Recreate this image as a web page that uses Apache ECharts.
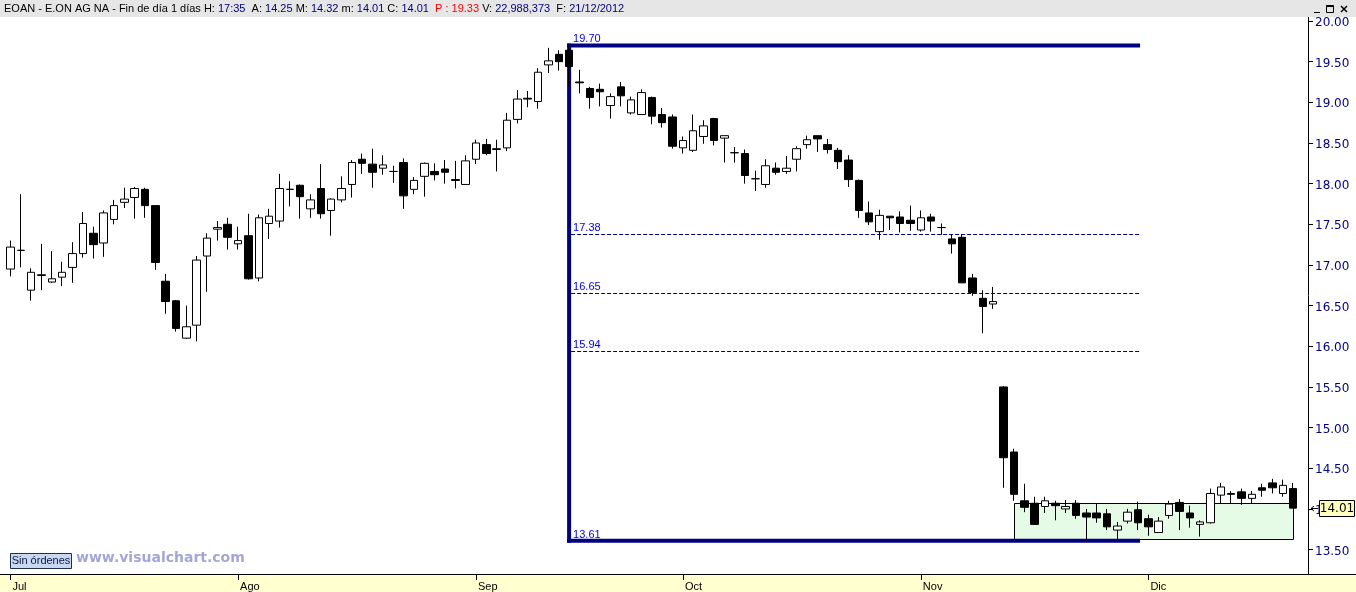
<!DOCTYPE html>
<html><head><meta charset="utf-8">
<script src="https://cdn.jsdelivr.net/npm/echarts@6/dist/echarts.min.js"></script>
<style>html,body{margin:0;padding:0;background:#fff;overflow:hidden}#c{width:1356px;height:592px}</style>
</head><body><div id="c"></div>
<script>
// ---- data (daily candles, 2 Jul 2012 .. 21 Dec 2012) ----
const openP = [16.95,17.18,16.69,16.87,16.79,16.85,16.97,17.14,17.39,17.27,17.56,17.77,17.83,17.93,17.73,16.80,16.56,16.10,16.26,17.11,17.44,17.50,
17.26,17.36,16.84,17.51,17.54,17.93,17.98,17.69,17.94,17.67,17.80,17.99,18.30,18.24,18.19,18.15,18.26,17.93,18.09,18.15,18.18,18.05,17.99,
18.30,18.48,18.42,18.44,18.79,19.05,19.01,19.46,19.59,19.64,19.25,19.17,19.16,18.96,19.19,18.87,18.85,19.06,18.85,18.82,
18.44,18.41,18.58,18.80,18.56,18.38,18.37,18.06,17.99,18.19,18.15,18.30,18.48,18.59,18.48,18.41,18.29,18.04,17.64,17.41,17.60,17.59,17.55,
17.43,17.59,17.46,17.32,17.34,16.84,16.59,16.52,15.50,14.70,14.10,14.07,14.03,14.07,14.00,14.07,13.95,13.95,13.94,13.74,13.85,13.99,
13.88,13.71,13.92,14.08,13.95,13.81,13.83,14.17,14.19,14.21,14.13,14.26,14.32,14.19,14.25];
const highP = [17.30,17.87,16.96,17.26,17.17,17.04,17.28,17.65,17.47,17.67,17.80,17.95,17.96,17.95,17.73,16.89,16.57,16.50,17.11,17.39,17.54,17.58,
17.47,17.63,17.62,17.69,18.12,18.03,17.99,17.87,18.24,17.82,18.09,18.29,18.37,18.43,18.35,18.22,18.31,18.08,18.26,18.25,18.29,18.28,18.35,
18.54,18.55,18.54,18.87,19.15,19.14,19.42,19.67,19.64,19.70,19.40,19.19,19.23,19.11,19.25,19.07,19.16,19.07,18.93,18.85,
18.58,18.85,18.78,18.81,18.59,18.45,18.42,18.16,18.30,18.26,18.34,18.46,18.59,18.59,18.55,18.44,18.35,18.05,17.78,17.68,17.60,17.66,17.73,
17.67,17.63,17.51,17.38,17.38,16.89,16.69,16.73,15.51,14.74,14.31,14.15,14.15,14.10,14.11,14.11,14.00,14.07,14.00,13.84,14.00,14.09,
13.93,13.90,14.10,14.12,14.04,13.86,14.25,14.32,14.22,14.25,14.22,14.31,14.37,14.36,14.32];
const lowP = [16.86,16.97,16.56,16.69,16.78,16.74,16.78,17.09,17.08,17.10,17.50,17.70,17.57,17.58,16.94,16.40,16.18,16.09,16.06,16.67,17.30,17.19,
17.19,16.82,16.80,17.32,17.46,17.72,17.57,17.58,17.57,17.36,17.77,17.83,18.12,17.95,18.11,18.01,17.69,17.87,17.84,18.04,18.00,17.94,17.99,
18.24,18.35,18.15,18.40,18.74,18.94,18.92,19.36,19.39,19.21,19.11,18.92,18.95,18.80,18.95,18.85,18.85,18.73,18.69,18.43,
18.37,18.39,18.49,18.47,18.26,18.26,18.00,17.91,17.95,18.11,18.12,18.15,18.43,18.39,18.37,18.18,17.96,17.58,17.49,17.31,17.43,17.40,17.42,
17.41,17.41,17.37,17.14,16.78,16.62,16.16,16.46,14.26,14.10,13.96,13.81,13.95,13.86,13.95,13.88,13.60,13.83,13.74,13.61,13.82,13.74,
13.67,13.71,13.88,13.74,13.77,13.66,13.82,14.07,14.07,14.05,14.07,14.15,14.19,14.15,14.01];
const closeP = [17.22,17.18,16.91,16.88,16.83,16.91,17.14,17.51,17.25,17.64,17.73,17.81,17.94,17.73,17.03,16.55,16.22,16.24,17.06,17.33,17.46,17.34,
17.30,16.83,17.58,17.60,17.94,17.93,17.84,17.80,17.63,17.81,17.94,18.26,18.25,18.14,18.23,18.15,17.85,18.04,18.25,18.11,18.14,18.04,18.28,
18.50,18.37,18.43,18.78,19.04,19.04,19.37,19.51,19.50,19.44,19.24,19.06,19.13,19.07,19.08,19.03,19.12,18.83,18.75,18.46,
18.53,18.65,18.71,18.53,18.59,18.38,18.10,18.06,18.22,18.14,18.19,18.43,18.54,18.55,18.42,18.27,18.05,17.67,17.53,17.61,17.58,17.51,17.51,
17.58,17.54,17.46,17.26,16.78,16.66,16.49,16.55,14.63,14.18,14.02,13.81,14.10,14.04,14.03,13.92,13.90,13.89,13.78,13.79,13.96,13.83,
13.78,13.85,14.06,13.97,13.89,13.84,14.19,14.27,14.18,14.13,14.18,14.23,14.26,14.29,14.01];
const monthLabels = ['Jul','Ago','Sep','Oct','Nov','Dic'];
const yTicks = {min: 13.5, max: 20, interval: 0.5};
// annotation (retracement tool) levels and anchors
const fibLevels = [19.70, 17.38, 16.65, 15.94, 13.61];
const fibIdx = [54, 109];
const boxIdx = [97, 124];
const boxPrices = [14.07, 13.63];
const header = {name:'EOAN - E.ON AG NA - Fin de día 1 días', time:'17:35', prev:'19.33', vol:'22,988,373', date:'21/12/2012'};

// trading days (weekdays) from 2 Jul 2012 to 21 Dec 2012
const dates = [];
for (let t = Date.UTC(2012,6,2); t <= Date.UTC(2012,11,21); t += 86400000) {
  const d = new Date(t); const w = d.getUTCDay();
  if (w !== 0 && w !== 6) dates.push(d.toISOString().slice(0,10));
}
const isMonthStart = i => i === 0 || dates[i].slice(5,7) !== dates[i-1].slice(5,7);
const candles = openP.map((o,i) => [o, closeP[i], lowP[i], highP[i]]);

const chart = echarts.init(document.getElementById('c'), null, {renderer:'canvas'});
const GRID = {left: 5.33, right: 57.6, top: 21, bottom: 42.4};
chart.setOption({
  animation: false,
  backgroundColor: '#ffffff',
  grid: GRID,
  xAxis: {
    type: 'category', data: dates, boundaryGap: true, offset: 24.4,
    axisLine: {show: false},
    axisTick: {show: true, alignWithLabel: true, interval: (i) => isMonthStart(i), length: 6, lineStyle: {color: '#000', width: 1}},
    axisLabel: {interval: (i) => isMonthStart(i), formatter: (v) => monthLabels[parseInt(v.slice(5,7),10) - 7],
      align: 'left', margin: 7, padding: [0,0,0,2], fontFamily: 'Liberation Sans', fontSize: 11, color: '#000'},
    splitLine: {show: false}
  },
  yAxis: {
    type: 'value', position: 'right', offset: 9.6, min: yTicks.min, max: yTicks.max, interval: yTicks.interval,
    axisLine: {show: false},
    axisTick: {show: true, length: 5, lineStyle: {color: '#000', width: 1}},
    axisLabel: {margin: 7, formatter: (v) => '{t|' + v.toFixed(2) + '}', fontFamily: 'DejaVu Sans', fontSize: 12, color: '#000080',
      rich: {t: {fontFamily: 'DejaVu Sans', fontSize: 12, color: '#000080', padding: [4,0,0,0]}}},
    splitLine: {show: false}
  },
  series: [{
    type: 'candlestick', data: candles, barWidth: 8, z: 5,
    itemStyle: {color: '#ffffff', color0: '#000000', borderColor: '#000000', borderColor0: '#000000', borderWidth: 1},
    emphasis: {disabled: true}
  }]
});

const px = (i, v) => chart.convertToPixel({gridIndex: 0}, [i, v]);
const g = [];
// backgrounds / frame
g.push({type:'rect', shape:{x:0,y:0,width:1356,height:17}, style:{fill:'#e6e6e6'}, z:-5});
g.push({type:'rect', shape:{x:0,y:574,width:1356,height:18}, style:{fill:'#ffffd0'}, z:-5});
g.push({type:'line', shape:{x1:0,y1:574.5,x2:1356,y2:574.5}, style:{stroke:'#000',lineWidth:1}, z:3});
g.push({type:'line', shape:{x1:1308.5,y1:17,x2:1308.5,y2:574}, style:{stroke:'#000',lineWidth:1}, z:3});
// header text
const last = openP.length - 1;
const hdr = '{k|' + header.name + ' H: }{v|' + header.time + '}{k|  A: }{v|' + openP[last].toFixed(2) +
  '}{k| M: }{v|' + highP[last].toFixed(2) + '}{k| m: }{v|' + lowP[last].toFixed(2) + '}{k| C: }{v|' + closeP[last].toFixed(2) +
  '}{r|  P : ' + header.prev + '}{k| V: }{v|' + header.vol + '}{k|  F: }{v|' + header.date + '}';
const hf = '11px "Liberation Sans"';
g.push({type:'text', x:4, y:8.5, style:{text: hdr, verticalAlign:'middle', font:hf,
  rich:{k:{fill:'#000', font:hf}, v:{fill:'#000080', font:hf}, r:{fill:'#ff0000', font:hf}}}, z:3});
// window buttons
g.push({type:'line', shape:{x1:1314,y1:12.5,x2:1320,y2:12.5}, style:{stroke:'#000',lineWidth:1}, z:3});
g.push({type:'rect', shape:{x:1326.5,y:5.5,width:7,height:7}, style:{fill:'none',stroke:'#000',lineWidth:1}, z:3});
g.push({type:'line', shape:{x1:1326.5,y1:6,x2:1333.5,y2:6}, style:{stroke:'#000',lineWidth:2}, z:3});
g.push({type:'line', shape:{x1:1341,y1:6,x2:1347,y2:12}, style:{stroke:'#000',lineWidth:1.5}, z:3});
g.push({type:'line', shape:{x1:1347,y1:6,x2:1341,y2:12}, style:{stroke:'#000',lineWidth:1.5}, z:3});
// Sin órdenes + watermark
g.push({type:'rect', shape:{x:10.5,y:553.5,width:61,height:15}, style:{fill:'#c8d8f0',stroke:'#203050',lineWidth:1}, z:3});
g.push({type:'text', x:41, y:561, style:{text:'Sin órdenes', font:'11px "Liberation Sans"', fill:'#101840', align:'center', verticalAlign:'middle'}, z:3});
g.push({type:'text', x:76, y:558, style:{text:'www.visualchart.com', font:'bold 14px "DejaVu Sans"', fill:'#a3a6d8', verticalAlign:'middle'}, z:3});

// green box
const b0 = px(boxIdx[0], boxPrices[0]), b1 = px(boxIdx[1], boxPrices[1]);
g.push({type:'rect', shape:{x:Math.round(b0[0])+0.5, y:Math.round(b0[1])+0.5, width:Math.round(b1[0]-b0[0]), height:Math.round(b1[1]-b0[1])},
  style:{fill:'#e6fbe6', stroke:'#000', lineWidth:1}, z:1});
// retracement tool
const xa = px(fibIdx[0], fibLevels[0])[0], xb = px(fibIdx[1], fibLevels[0])[0] + 2;
const yTop = px(0, fibLevels[0])[1], yBot = px(0, fibLevels[fibLevels.length-1])[1];
g.push({type:'line', shape:{x1:xa-2, y1:yTop, x2:xb, y2:yTop}, style:{stroke:'#000080', lineWidth:4}, z:2});
g.push({type:'line', shape:{x1:xa-2, y1:yBot, x2:xb, y2:yBot}, style:{stroke:'#000080', lineWidth:4}, z:2});
g.push({type:'line', shape:{x1:xa, y1:yTop-2, x2:xa, y2:yBot+2}, style:{stroke:'#000080', lineWidth:4}, z:2});
fibLevels.forEach((lv, k) => {
  const y = Math.round(px(0, lv)[1]) + 0.5;
  if (k > 0 && k < fibLevels.length - 1) {
    g.push({type:'line', shape:{x1:xa+2, y1:y, x2:xb, y2:y}, style:{stroke:'#000080', lineWidth:1, lineDash:[4,2]}, z:2});
  }
  g.push({type:'text', x:xa+4, y:y-1.5, style:{text: lv.toFixed(2), font:'11px "Liberation Sans"', fill:'#0000ee', verticalAlign:'bottom'}, z:2});
});
// last price tag
const yl = Math.round(px(last, closeP[last])[1]);
g.push({type:'rect', shape:{x:1319.5, y:yl-7.5, width:35, height:16}, style:{fill:'#ffffc0', stroke:'#000', lineWidth:1}, z:4});
g.push({type:'text', x:1337, y:yl+0.5, style:{text: closeP[last].toFixed(2), font:'12px "DejaVu Sans"', fill:'#000', align:'center', verticalAlign:'middle'}, z:5});
g.push({type:'polyline', shape:{points:[[1314,yl-2],[1311,yl+0.5],[1314,yl+3]]}, style:{stroke:'#000', fill:'none', lineWidth:1}, z:5});
g.push({type:'line', shape:{x1:1311,y1:yl+0.5,x2:1318,y2:yl+0.5}, style:{stroke:'#000', lineWidth:1}, z:5});

chart.setOption({graphic: g});
</script>
</body></html>
